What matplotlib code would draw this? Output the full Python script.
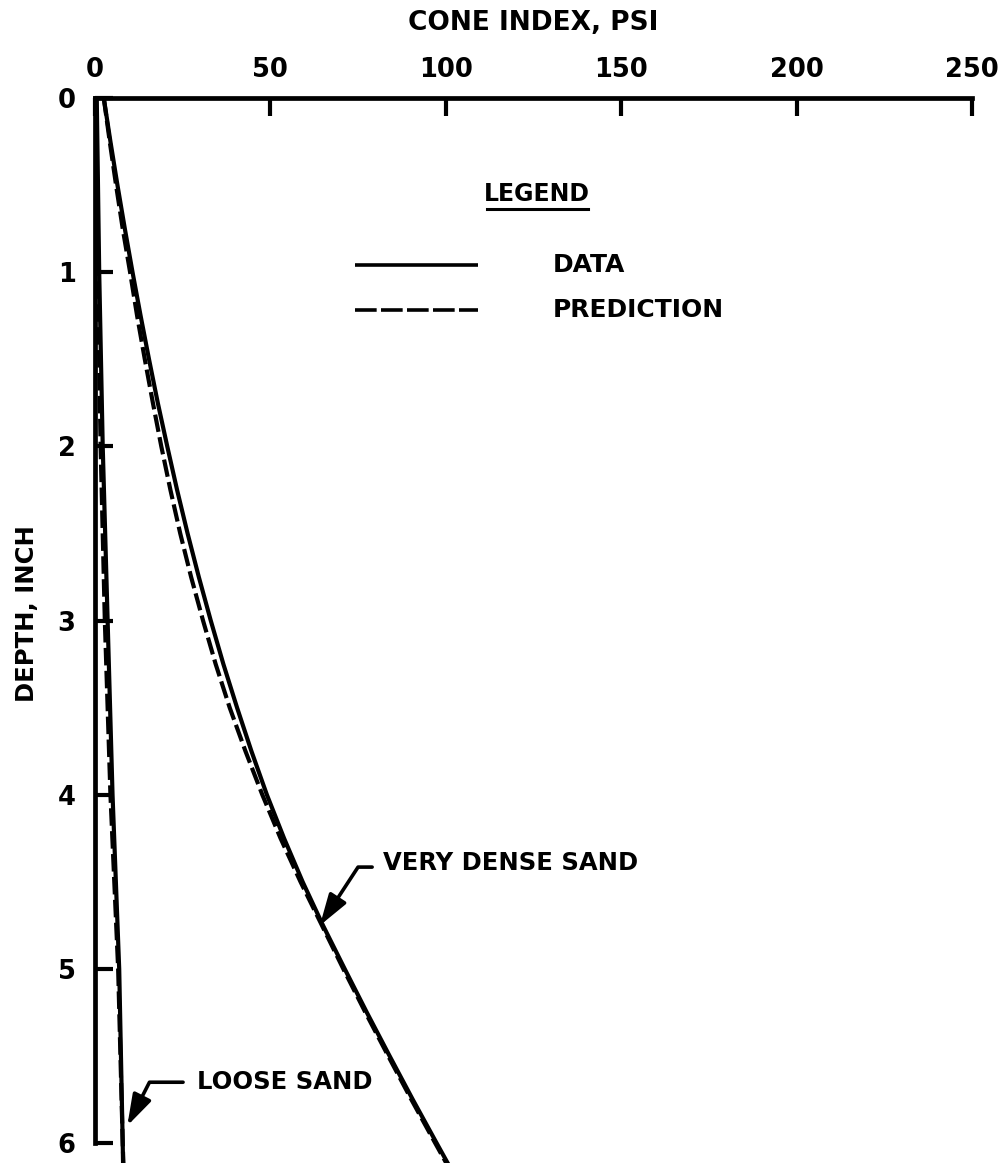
import matplotlib
matplotlib.use("Agg")
import matplotlib.pyplot as plt

# Cone index (psi) versus depth (inch) for two sand densities
depth = [0.0, 0.25, 0.5, 0.75, 1.0, 1.25, 1.5, 1.75, 2.0, 2.25, 2.5, 2.75, 3.0,
         3.25, 3.5, 3.75, 4.0, 4.25, 4.5, 4.75, 5.0, 5.25, 5.5, 5.75, 6.0, 6.12]
dense_data = [2.5, 4.4, 6.4, 8.5, 10.7, 13.0, 15.4, 17.9, 20.6, 23.4, 26.4, 29.6, 33.0,
              36.6, 40.5, 44.6, 49.0, 53.9, 59.2, 65.0, 71.2, 77.5, 84.0, 90.6, 97.4, 100.7]
dense_pred = [2.5, 4.2, 6.0, 7.9, 10.0, 12.0, 14.2, 16.5, 18.9, 21.5, 24.3, 27.4, 30.8,
              34.4, 38.4, 42.9, 47.7, 52.9, 58.6, 64.7, 70.8, 77.1, 83.6, 90.2, 97.0, 100.3]

loose_depth = [0.0, 1.0, 2.0, 3.0, 4.0, 5.0, 6.0, 6.12]
loose_data = [0.5, 1.2, 2.2, 3.6, 5.0, 6.9, 7.9, 8.0]
loose_pred = [0.3, 0.8, 1.6, 2.8, 4.4, 6.6, 7.9, 8.1]

x_ticks = [0, 50, 100, 150, 200, 250]
y_ticks = [0, 1, 2, 3, 4, 5, 6]

plt.rcParams['font.family'] = ['DejaVu Sans']
plt.rcParams['font.weight'] = 'bold'

W, H = 1006, 1163
fig = plt.figure(figsize=(W / 100, H / 100), dpi=100)
left_px, right_px, top_px = 95, 972, 98
ax = fig.add_axes([left_px / W, 0.0, (right_px - left_px) / W, (H - top_px) / H])

ink = 'black'
lw = 3.0
dash = (0, (4.2, 1.3))

ax.plot(dense_data, depth, color=ink, lw=lw, solid_capstyle='butt')
ax.plot(dense_pred, depth, color=ink, lw=lw, linestyle=dash)
ax.plot(loose_data, loose_depth, color=ink, lw=lw, solid_capstyle='butt')
ax.plot(loose_pred, loose_depth, color=ink, lw=lw, linestyle=dash)

ax.set_xlim(0, 250)
ax.set_ylim((H - top_px) / 174.2, 0)

ax.xaxis.tick_top()
ax.set_xticks(x_ticks)
ax.set_xticklabels([str(v) for v in x_ticks])
ax.set_yticks(y_ticks)
ax.set_yticklabels([str(v) for v in y_ticks])
ax.tick_params(axis='x', direction='in', length=13, width=3, pad=11,
               labelsize=18.5, top=True, bottom=False)
ax.tick_params(axis='y', direction='in', length=13, width=3, pad=14,
               labelsize=18.5, left=True, right=False)

for s in ('right', 'bottom'):
    ax.spines[s].set_visible(False)
for s in ('top', 'left'):
    ax.spines[s].set_linewidth(3.4)
ax.spines['left'].set_bounds(0, 6)

fig.text(533 / W, 1 - 23 / H, 'CONE INDEX, PSI', ha='center', va='center',
         fontsize=19, fontweight='bold')
fig.text(27 / W, 1 - 614 / H, 'DEPTH, INCH', ha='center', va='center',
         rotation=90, fontsize=17.5, fontweight='bold')

# Legend block
def ax_x(px):
    return (px - left_px) / (right_px - left_px)

def ax_y(py):
    return (H - py) / (H - top_px)

ax.text(ax_x(537), ax_y(194), 'LEGEND', transform=ax.transAxes, ha='center',
        va='center', fontsize=17, fontweight='bold')
ax.plot([ax_x(487), ax_x(588)], [ax_y(209), ax_y(209)], transform=ax.transAxes,
        color=ink, lw=2.2)
ax.plot([ax_x(355), ax_x(478)], [ax_y(265), ax_y(265)], transform=ax.transAxes,
        color=ink, lw=2.6, solid_capstyle='butt')
ax.plot([ax_x(355), ax_x(478)], [ax_y(310), ax_y(310)], transform=ax.transAxes,
        color=ink, lw=2.6, linestyle=(0, (6.0, 1.2)))
ax.text(ax_x(553), ax_y(265), 'DATA', transform=ax.transAxes, ha='left',
        va='center', fontsize=18, fontweight='bold')
ax.text(ax_x(553), ax_y(310), 'PREDICTION', transform=ax.transAxes, ha='left',
        va='center', fontsize=18, fontweight='bold')

# Curve callouts
arrow = dict(arrowstyle='-|>,head_length=0.95,head_width=0.3', color=ink, lw=2.6,
             shrinkA=0, shrinkB=0, mutation_scale=20)
ax.annotate('', xy=(64.1, 4.75), xytext=(79.0, 4.415),
            arrowprops=dict(arrow, connectionstyle='angle,angleA=180,angleB=56.8,rad=0'))
ax.text(82.1, 4.39, 'VERY DENSE SAND', ha='left', va='center', fontsize=17.5,
        fontweight='bold')
ax.annotate('', xy=(9.2, 5.90), xytext=(25.1, 5.65),
            arrowprops=dict(arrow, connectionstyle='angle,angleA=180,angleB=63,rad=0'))
ax.text(29.1, 5.65, 'LOOSE SAND', ha='left', va='center', fontsize=17.5,
        fontweight='bold')

fig.savefig('out.png', dpi=100)
